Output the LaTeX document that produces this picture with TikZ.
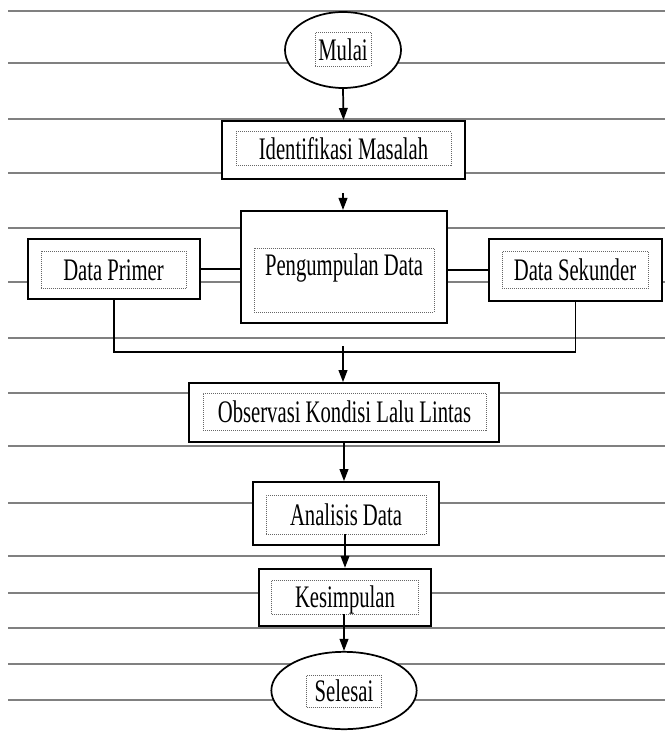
\documentclass[tikz,border=0pt]{standalone}
\usepackage{fontspec}
\setmainfont{Liberation Serif}[FakeStretch=0.66]
\usepackage{tikz}
\usetikzlibrary{positioning,shapes.geometric,arrows.meta}

\begin{document}
\begin{tikzpicture}[x=0.75pt,y=-0.75pt,
  rule/.style={black!50, line width=1.1pt},
  outerbox/.style={draw=black, fill=white, line width=1.5pt, rectangle, inner sep=0pt},
  outerell/.style={draw=black, fill=white, line width=1.3pt, ellipse, inner sep=0pt},
  label/.style={font=\fontsize{23.5}{25}\selectfont, text height=18pt, text depth=2pt},
  innerbox/.style={label, draw=black!60, densely dotted, line width=0.5pt, rectangle, inner sep=0pt},
  link/.style={black, line width=1.3pt},
  flow/.style={black, line width=1.3pt, -{Triangle[length=9pt,width=6.5pt]}}]
\useasboundingbox (0,0) rectangle (665,734);
\fill[white] (0,0) rectangle (665,734);
% ruled lines
\foreach \y in {11,63,119,173,228,282,338,393,446,503,556,593,628,664,700}
  \draw[rule] (8,\y) -- (665,\y);
% start
\node[outerell, minimum width=87pt, minimum height=57pt] (mulai) at (343,50) {};
\node[innerbox, minimum width=42pt, minimum height=25pt] (mulaiT) at (343,49.5) {Mulai};
% identifikasi
\node[outerbox, minimum width=182pt, minimum height=43.5pt] (ident) at (343.5,150) {};
\node[innerbox, minimum width=161pt, minimum height=25pt] (identT) at (343.5,148.5) {Identifikasi Masalah};
\coordinate (identOut) at (343,193);
% pengumpulan data
\node[outerbox, minimum width=154.5pt, minimum height=84pt] (peng) at (344,267) {};
\node[innerbox, minimum width=135pt, minimum height=48pt] (pengT) at (344,280) {};
\node[label] (pengL) at (344,264.5) {Pengumpulan Data};
% data primer
\node[outerbox, minimum width=129pt, minimum height=45pt] (primer) at (113.75,269) {};
\node[innerbox, minimum width=109pt, minimum height=28pt] (primerT) at (113.5,269.5) {Data Primer};
% data sekunder
\node[outerbox, minimum width=130pt, minimum height=46.5pt] (sekunder) at (575.5,270) {};
\node[innerbox, minimum width=109.5pt, minimum height=28pt] (sekunderT) at (575,269.5) {Data Sekunder};
\coordinate (collect) at (343,346);
% observasi
\node[outerbox, minimum width=233pt, minimum height=44pt] (obs) at (344,412.5) {};
\node[innerbox, minimum width=212pt, minimum height=28pt] (obsT) at (344.5,411.5) {Observasi Kondisi Lalu Lintas};
% analisis
\node[outerbox, minimum width=139.5pt, minimum height=47pt] (analisis) at (346,513.5) {};
\node[innerbox, minimum width=120pt, minimum height=29pt] (analisisT) at (346,514.5) {Analisis Data};
% kesimpulan
\node[outerbox, minimum width=129pt, minimum height=43pt] (kesimpulan) at (345,597.5) {};
\node[innerbox, minimum width=110pt, minimum height=25.5pt] (kesimpulanT) at (345,597) {Kesimpulan};
% finish
\node[outerell, minimum width=109pt, minimum height=58pt] (selesai) at (344,690.5) {};
\node[innerbox, minimum width=56pt, minimum height=24pt] (selesaiT) at (344,691) {Selesai};
% connectors
\draw[flow] (mulai.south) -- (ident.north);
\draw[flow] (identOut) -- (identOut |- peng.north);
\draw[link] (primer.east) -- (primer.east -| peng.west);
\draw[link] (peng.east |- sekunder.west) -- (sekunder.west);
\draw[link] (primer.south) |- (343,352) -| (sekunder.south);
\draw[flow] (collect) -- (collect |- obs.north);
\draw[flow] (obs.south) -- (obs.south |- analisis.north);
\draw[flow] (analisisT.south -| kesimpulan.north) -- (kesimpulan.north);
\draw[flow] (kesimpulanT.south -| selesai.north) -- (selesai.north);
\end{tikzpicture}
\end{document}
